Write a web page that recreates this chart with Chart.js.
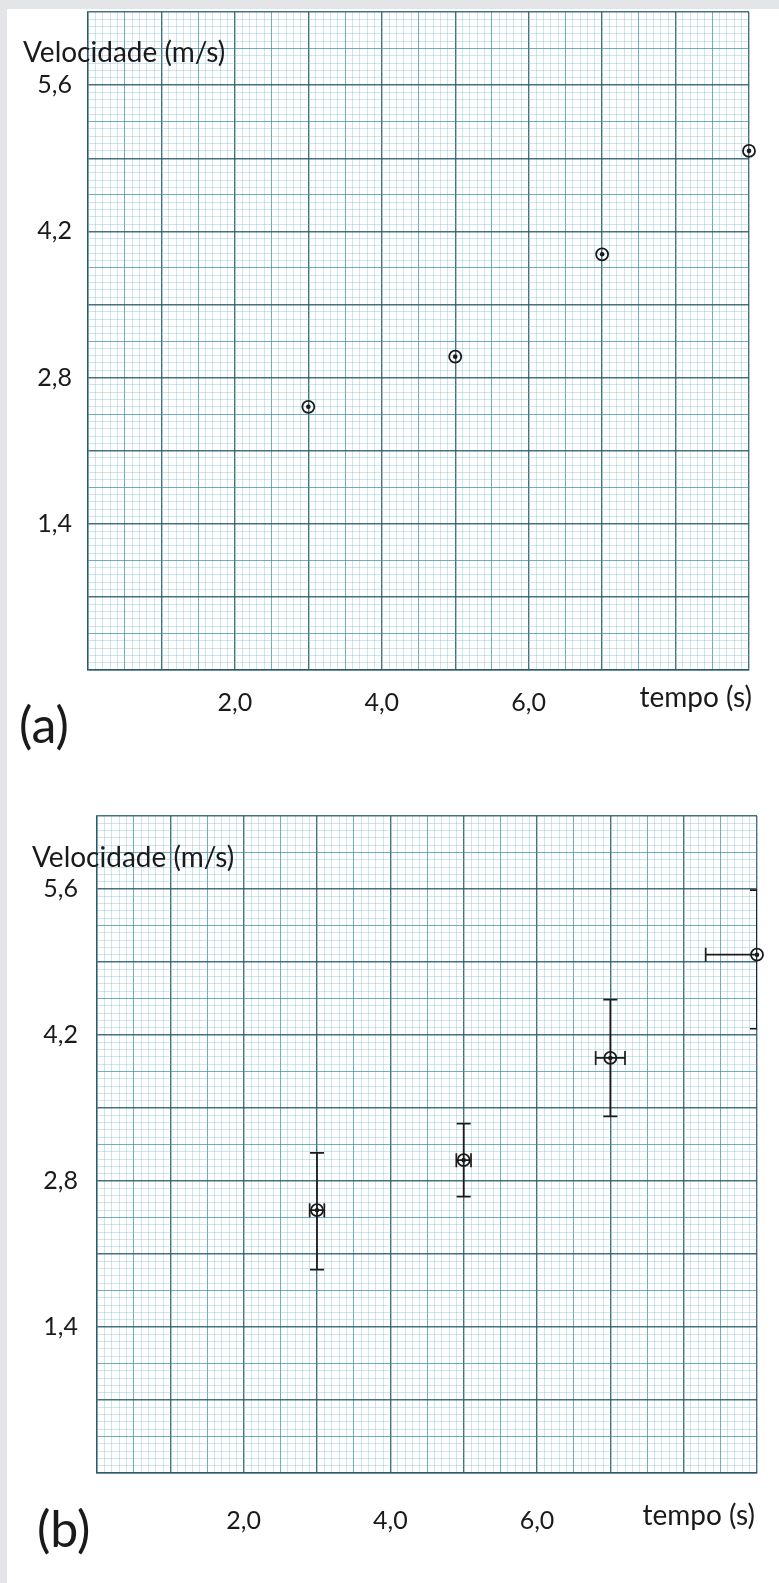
<!DOCTYPE html>
<html>
<head>
<meta charset="utf-8">
<script src="https://cdn.jsdelivr.net/npm/chart.js@4.4.1/dist/chart.umd.min.js"></script>
<style>
  body { margin: 0; background: #fff; }
  #page { position: relative; width: 779px; height: 1583px; background: #fff; overflow: hidden; }
  .strip { position: absolute; background: #e4e5e7; }
  canvas { position: absolute; }
  .panel { position: absolute; font-family: Lato, sans-serif; font-size: 50px; line-height: 1; color: #1a1a1a; }
</style>
</head>
<body>
<div id="page">
  <div class="strip" style="left:0;top:0;width:779px;height:9px"></div>
  <div class="strip" style="left:0;top:0;width:7px;height:1583px"></div>
  <canvas id="chartA" width="772" height="750" style="left:7px;top:9px"></canvas>
  <canvas id="chartB" width="772" height="823" style="left:7px;top:760px"></canvas>
  <div class="panel" style="left:19px;top:699px">(a)</div>
  <div class="panel" style="left:37px;top:1503px">(b)</div>
</div>
<script>
// data
const times = [3.0, 5.0, 7.0, 9.0];
const velocities = [2.52, 3.0, 3.98, 4.97];
const timeErrors = [0.1, 0.1, 0.2, 0.7];
const velocityErrorsUp = [0.55, 0.35, 0.56, 0.62];
const velocityErrorsDown = [0.57, 0.35, 0.56, 0.71];

const xTickValues = [2, 4, 6];
const xTickLabels = ['2,0', '4,0', '6,0'];
const yTickValues = [1.4, 2.8, 4.2, 5.6];
const yTickLabels = ['1,4', '2,8', '4,2', '5,6'];

const X_MAX = 9;
const Y_MAX = 6.3;
const DIVS = 90; // millimetre lines per axis

// translucent so crossing lines don't chop each other up
const MAJOR = 'rgba(38, 88, 106, 0.85)';
const MEDIUM = 'rgba(60, 140, 172, 0.72)';
const MINOR = 'rgba(110, 180, 208, 0.34)';
const INK = '#1a1a1a';
const FONT = 'Lato, sans-serif';

function paperTicks(max) {
  const t = [];
  for (let i = 0; i <= DIVS; i++) t.push({value: max * i / DIVS});
  return t;
}

function lookup(values, labels, v) {
  for (let i = 0; i < values.length; i++) {
    if (Math.abs(values[i] - v) < 1e-6) return labels[i];
  }
  return '';
}

const gridColor = ctx => ctx.index % 10 === 0 ? MAJOR : (ctx.index % 5 === 0 ? MEDIUM : MINOR);
const gridWidth = ctx => ctx.index % 10 === 0 ? 1.4 : 1;

const axisTitles = {
  id: 'axisTitles',
  afterDraw(chart) {
    const o = chart.options.plugins.axisTitles;
    const a = chart.chartArea;
    const ctx = chart.ctx;
    ctx.save();
    ctx.fillStyle = INK;
    ctx.font = '28px ' + FONT;
    ctx.textAlign = 'left';
    ctx.textBaseline = 'alphabetic';
    ctx.fillText('Velocidade (m/s)', a.left - 65, a.top + o.yTitleDy);
    ctx.textAlign = 'right';
    ctx.textBaseline = 'middle';
    ctx.fillText('tempo (s)', a.right + o.xTitleDx, a.bottom + o.xTitleDy);
    ctx.restore();
  }
};

const errorBars = {
  id: 'errorBars',
  afterDatasetsDraw(chart) {
    const x = chart.scales.x, y = chart.scales.y;
    const a = chart.chartArea;
    const ctx = chart.ctx;
    const cap = 7;
    ctx.save();
    ctx.beginPath();
    ctx.rect(a.left, a.top, a.right - a.left, a.bottom - a.top);
    ctx.clip();
    ctx.strokeStyle = INK;
    ctx.lineWidth = 1.7;
    for (let i = 0; i < times.length; i++) {
      const px = x.getPixelForValue(times[i]);
      const py = y.getPixelForValue(velocities[i]);
      const top = y.getPixelForValue(velocities[i] + velocityErrorsUp[i]);
      const bot = y.getPixelForValue(velocities[i] - velocityErrorsDown[i]);
      const left = x.getPixelForValue(times[i] - timeErrors[i]);
      const right = x.getPixelForValue(times[i] + timeErrors[i]);
      ctx.beginPath();
      ctx.moveTo(px, top); ctx.lineTo(px, bot);
      ctx.moveTo(px - cap, top); ctx.lineTo(px + cap, top);
      ctx.moveTo(px - cap, bot); ctx.lineTo(px + cap, bot);
      ctx.moveTo(left, py); ctx.lineTo(right, py);
      ctx.moveTo(left, py - cap); ctx.lineTo(left, py + cap);
      ctx.moveTo(right, py - cap); ctx.lineTo(right, py + cap);
      ctx.stroke();
    }
    ctx.restore();
  }
};

function makeChart(id, cfg, withErrors) {
  const points = times.map((t, i) => ({x: t, y: velocities[i]}));
  new Chart(document.getElementById(id), {
    type: 'scatter',
    data: {
      datasets: [
        {data: points, pointRadius: 6, pointBorderWidth: 1.8, pointBorderColor: INK,
         pointBackgroundColor: 'rgba(255,255,255,0)', clip: false},
        {data: points, pointRadius: 2.3, pointBorderWidth: 0, pointBackgroundColor: INK, clip: false}
      ]
    },
    options: {
      responsive: false,
      animation: false,
      devicePixelRatio: 1,
      layout: {autoPadding: false, padding: {left: 0, top: cfg.padTop, right: cfg.padRight, bottom: 0}},
      plugins: {
        legend: {display: false},
        tooltip: {enabled: false},
        axisTitles: {yTitleDy: cfg.yTitleDy, xTitleDx: cfg.xTitleDx, xTitleDy: cfg.xTitleDy}
      },
      scales: {
        x: {
          type: 'linear', min: 0, max: X_MAX,
          afterBuildTicks: s => { s.ticks = paperTicks(X_MAX); },
          afterFit: s => { s.height = cfg.xHeight; s.paddingLeft = 0; s.paddingRight = 0; },
          grid: {color: gridColor, lineWidth: gridWidth, drawTicks: false},
          border: {color: MAJOR, width: 1.4},
          ticks: {
            autoSkip: false, maxRotation: 0, padding: cfg.xTickPad, color: INK,
            font: {family: FONT, size: 25},
            callback: v => lookup(xTickValues, xTickLabels, v)
          }
        },
        y: {
          type: 'linear', min: 0, max: Y_MAX,
          afterBuildTicks: s => { s.ticks = paperTicks(Y_MAX); },
          afterFit: s => { s.width = cfg.yWidth; s.paddingTop = 0; s.paddingBottom = 0; },
          grid: {color: gridColor, lineWidth: gridWidth, drawTicks: false},
          border: {color: MAJOR, width: 1.4},
          ticks: {
            autoSkip: false, padding: cfg.yTickPad, color: INK,
            font: {family: FONT, size: 25},
            callback: v => lookup(yTickValues, yTickLabels, v)
          }
        }
      }
    },
    plugins: withErrors ? [errorBars, axisTitles] : [axisTitles]
  });
}

makeChart('chartA', {padTop: 3, padRight: 30, xHeight: 89, yWidth: 81,
  xTickPad: 18, yTickPad: 16, yTitleDy: 50, xTitleDx: 3, xTitleDy: 28}, false);
makeChart('chartB', {padTop: 56, padRight: 22, xHeight: 110, yWidth: 90,
  xTickPad: 33, yTickPad: 19, yTitleDy: 51, xTitleDx: -2, xTitleDy: 43}, true);
</script>
</body>
</html>
